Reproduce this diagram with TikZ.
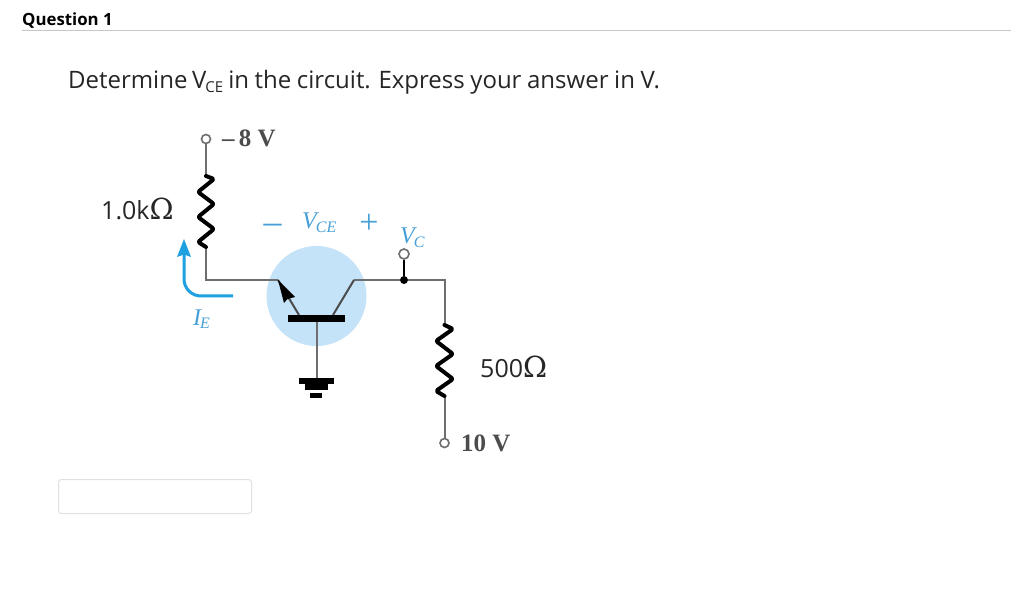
\documentclass[tikz,border=0pt]{standalone}
\usepackage{fontspec}
\usepackage{amsmath}
\setmainfont{Open Sans}
\newfontfamily\lat{Liberation Serif}
\newcommand{\ohmsym}{{\fontspec{DejaVu Serif}\fontsize{29}{30}\selectfont\symbol{"03A9}}}
\usetikzlibrary{arrows.meta,decorations.pathmorphing,calc}
\definecolor{wiregray}{RGB}{110,110,110}
\definecolor{cblue}{RGB}{30,160,225}
\definecolor{discblue}{RGB}{196,226,248}
\definecolor{bluetxt}{RGB}{70,160,215}
\tikzset{
 x=1pt,y=-1pt,
 wire/.style={draw=wiregray,line width=2pt},
 res/.style={draw=black,line width=4pt,line join=round,line cap=round,rounded corners=2pt},
 term/.style={circle,draw=wiregray,fill=white,line width=1.6pt,minimum size=9pt,inner sep=0pt},
 dot/.style={circle,fill=black,minimum size=8pt,inner sep=0pt},
 lab/.style={inner sep=0pt,anchor=base west,font=\fontsize{25}{28}\selectfont,text=black!85},
 val/.style={inner sep=0pt,anchor=base west,font=\lat\bfseries\fontsize{25}{28}\selectfont,text=black!70},
 bluelab/.style={inner sep=0pt,text=bluetxt},
 bar/.style={fill=black,draw=none},
}
\begin{document}
\begin{tikzpicture}
\useasboundingbox (0,0) rectangle (1011,593);
\fill[white] (0,0) rectangle (1011,593);
% page furniture
\node[inner sep=0pt,anchor=base west,font=\bfseries\fontsize{16.8}{20}\selectfont] (q) at (22,25.5) {Question 1};
\coordinate (ruleL) at (22,30.5); \coordinate (ruleR) at (1011,30.5);
\draw[black!22,line width=1pt] (ruleL) -- (ruleR);
\node[inner sep=0pt,anchor=base west,font=\fontsize{24}{28}\selectfont,text=black!85] (title) at (68,89)
 {\spaceskip=5.6pt Determine\kern-1pt{} V\kern-1pt\textsubscript{\fontsize{15}{15}\selectfont CE}\kern-1pt{} in the circuit. Express your answer in V.};
\node[draw=black!12,line width=1pt,rounded corners=3pt,minimum width=193pt,minimum height=34pt,inner sep=0pt,anchor=north west] (answer) at (58,479) {};
% disc
\node[circle,fill=discblue,minimum size=100pt,inner sep=0pt] (disc) at (316.5,296) {};
% coordinates
\node[term] (tTop) at (206,139) {};
\coordinate (r1a) at (206,176); \coordinate (r1b) at (206,247);
\coordinate (cornerE) at (206,280);
\coordinate (eOut) at (278,280); \coordinate (eIn) at (299,315);
\coordinate (cIn) at (333,315); \coordinate (cOut) at (354,280);
\node[dot] (jn) at (404,280) {};
\node[term,minimum size=10pt] (tVc) at (404,254) {};
\coordinate (cornerC) at (444.5,280);
\coordinate (r2a) at (444.5,325); \coordinate (r2b) at (444.5,396);
\node[term] (tBot) at (444.5,443) {};
\coordinate (gnd) at (316.5,378);
\coordinate (baseW) at (316.5,322);
% wires
\draw[wire] (tTop) -- (r1a);
\draw[wire] (r1b) -- (cornerE) -- (eOut);
\draw[wire] (cOut) -- (jn) -- (cornerC) -- (r2a);
\draw[wire] (r2b) -- (tBot);
\draw[wire] (baseW) -- (gnd);
\draw[draw=black,line width=1.8pt] (jn) -- (tVc);
% transistor
\draw[wire,draw=black!70] (eOut) -- (eIn);
\draw[wire,draw=black!70] (cIn) -- (cOut);
\fill[black] (278,280) -- (295,297) -- (287.5,299) -- (284,303) -- cycle;
\fill[bar] (288,315) rectangle (345,322);
% ground
\fill[bar] (299,378) rectangle (334,384);
\fill[bar] (305,384) rectangle (328,390);
\fill[bar] (310,393) rectangle (322,398);
% resistors
\draw[res] (r1a) -- (214,179) -- (198,192) -- (214,204) -- (198,217) -- (214,229) -- (198,242) -- (r1b);
\draw[res] (r2a) -- (453,329) -- (436,341) -- (453,354) -- (436,366) -- (453,379) -- (436,391) -- (r2b);
% IE arrow
\coordinate (ieStart) at (233,296); \coordinate (ieEnd) at (184,239);
\draw[cblue,line width=3pt,rounded corners=17pt] (ieStart) -- (184,296) -- (184,252);
\fill[cblue] (ieEnd) -- (191,257) -- (184,254.5) -- (177,257) -- cycle;
% labels
\node[lab] (l1k) at (101,219.5) {1.0k\ohmsym};
\node[lab] (l500) at (480,377.5) {500\ohmsym};
\node[val] (l8) at (222,147) {\textendash\,8 V};
\node[val] (l10) at (461,451) {10 V};
\node[bluelab,font=\lat\itshape\fontsize{24}{24}\selectfont,anchor=base west] (ie) at (193,325) {I\kern-1pt\textsubscript{\fontsize{16}{16}\selectfont E}};
\node[bluelab,font=\lat\itshape\fontsize{24}{24}\selectfont,anchor=base west] (vce) at (302,229) {V\kern-1pt\textsubscript{\fontsize{16}{16}\selectfont CE}};
\node[bluelab,font=\lat\itshape\fontsize{24}{24}\selectfont,anchor=base west] (vc) at (400,244) {V\kern-1pt\textsubscript{\fontsize{16}{16}\selectfont C}};
\node[bluelab,font=\lat\fontsize{36}{36}\selectfont,anchor=base] (minus) at (272.5,234) {\textendash};
\node[bluelab,font=\lat\fontsize{34}{34}\selectfont,anchor=base] (plus) at (369,234) {+};
\end{tikzpicture}
\end{document}
